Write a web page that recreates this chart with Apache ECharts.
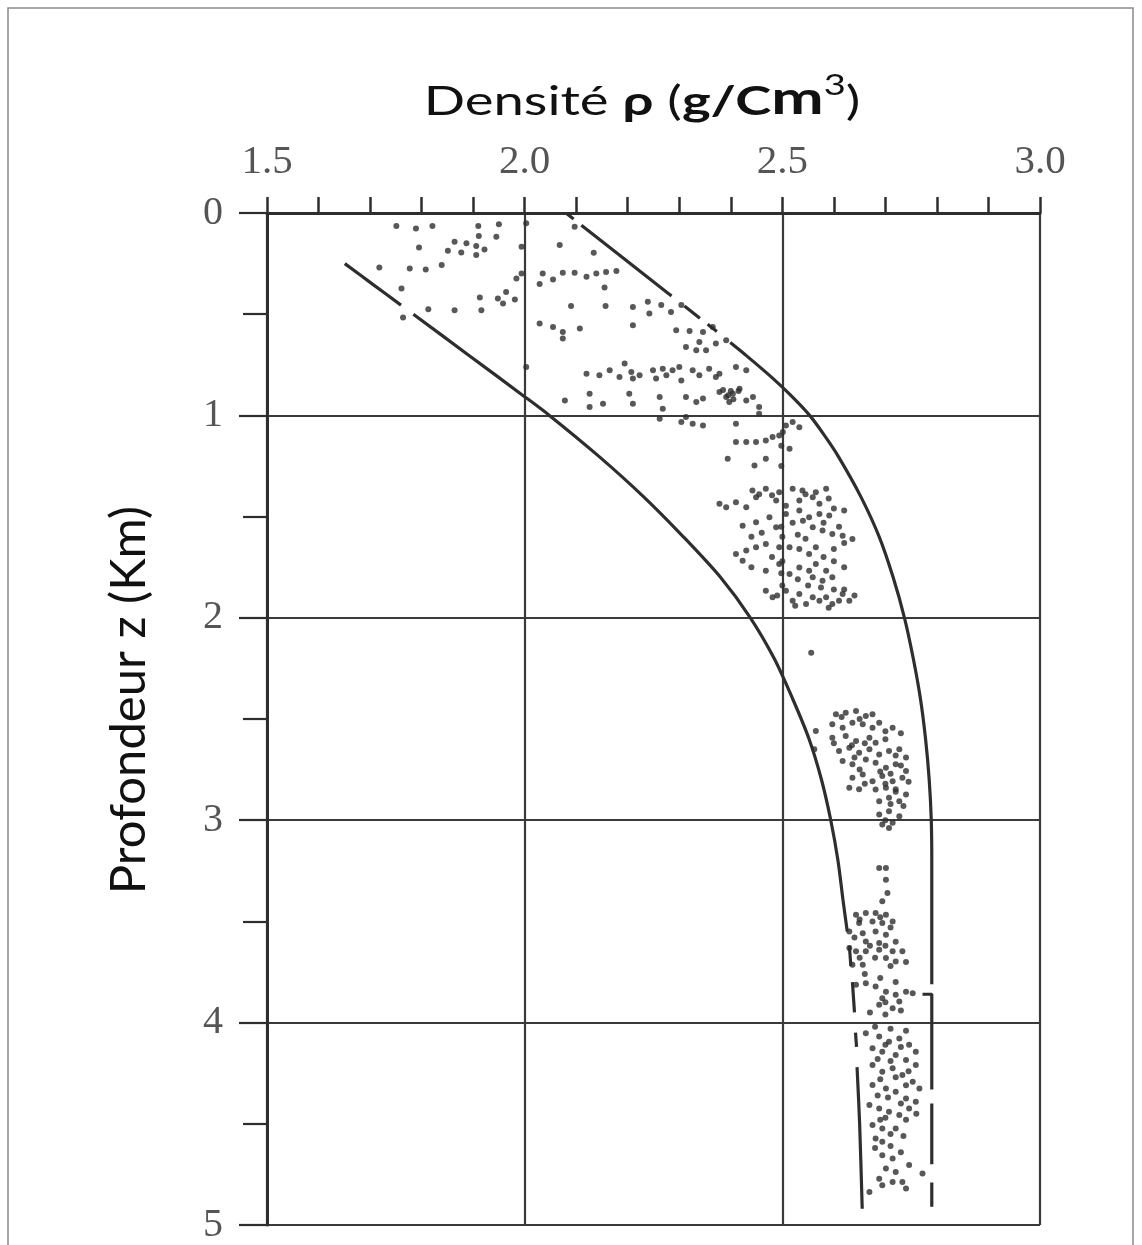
<!DOCTYPE html>
<html>
<head>
<meta charset="utf-8">
<script src="https://cdn.jsdelivr.net/npm/echarts@6/dist/echarts.min.js"></script>
<style>
html,body{margin:0;padding:0;background:#fff;}
#chart{width:1142px;height:1245px;}
</style>
</head>
<body>
<div id="chart"></div>
<script>
// ---- Data (density g/cm3, depth km) ----
const xTicks = [1.5, 2.0, 2.5, 3.0];
const yTicks = [0, 1, 2, 3, 4, 5];
const xTitle = '{n|Densité }{b|ρ}{n| (}{b|g/C}{m|m}{s|3}{n|)}';
const yTitle = 'Profondeur z (Km)';

// Upper bound curve (null = gap in the drawn line)
const upperCurve = [
  [2.080,0.00],[2.095,0.03],null,
  [2.110,0.06],[2.180,0.20],[2.280,0.40],[2.285,0.41],null,
  [2.310,0.46],[2.340,0.52],null,
  [2.355,0.55],[2.373,0.585],null,
  [2.399,0.64],[2.428,0.70],[2.474,0.80],[2.516,0.90],[2.553,1.00],[2.582,1.10],[2.608,1.20],
  [2.652,1.40],[2.688,1.60],[2.715,1.80],[2.737,2.00],[2.754,2.20],[2.768,2.40],[2.778,2.60],
  [2.785,2.80],[2.789,3.00],[2.790,3.20],[2.790,3.81],null,
  [2.772,3.86],[2.790,3.86],[2.790,4.33],null,
  [2.790,4.40],[2.790,4.70],null,
  [2.790,4.79],[2.790,4.91]
];

// Lower bound curve
const lowerCurve = [
  [1.651,0.25],[1.704,0.35],[1.760,0.455],null,
  [1.784,0.50],[1.890,0.70],[1.996,0.90],[2.048,1.00],[2.143,1.20],[2.230,1.40],[2.308,1.60],
  [2.380,1.80],[2.438,2.00],[2.484,2.20],[2.520,2.40],[2.552,2.60],[2.576,2.80],[2.594,3.00],
  [2.608,3.20],[2.618,3.40],[2.626,3.55],null,
  [2.630,3.62],[2.633,3.72],null,
  [2.636,3.80],[2.640,3.95],null,
  [2.642,4.05],[2.644,4.12],null,
  [2.645,4.22],[2.650,4.50],[2.655,4.92]
];

// Measured densities (scatter)
const pointsShallow = [
  [1.751,0.064],[1.789,0.076],[1.821,0.064],[1.910,0.064],[1.950,0.056],[1.911,0.114],[1.945,0.117],
  [1.795,0.170],[1.864,0.142],[1.887,0.150],[1.906,0.163],[1.922,0.180],[1.851,0.187],[1.877,0.195],
  [1.906,0.208],[1.718,0.269],[1.777,0.274],[1.808,0.279],[1.839,0.257],[1.761,0.373],[1.813,0.475],
  [1.864,0.480],[1.916,0.480],[1.764,0.516],[1.913,0.417],[1.948,0.422],[1.964,0.390],[1.981,0.427],
  [1.958,0.447],[1.994,0.167],[1.984,0.323],[1.994,0.299],[2.003,0.051],[2.097,0.068],[2.068,0.158],
  [2.134,0.196],[2.035,0.299],[2.055,0.328],[2.029,0.351],[2.074,0.295],[2.097,0.295],[2.120,0.315],
  [2.139,0.299],[2.158,0.292],[2.178,0.287],[2.155,0.368],[2.090,0.460],[2.157,0.460],[2.210,0.464],
  [2.239,0.439],[2.265,0.455],[2.284,0.489],[2.304,0.455],[2.242,0.497],[2.210,0.554],[2.029,0.546],
  [2.055,0.563],[2.074,0.588],[2.074,0.620],[2.107,0.571]
];
const pointsUpper = [
  [2.294,0.579],[2.320,0.583],[2.346,0.588],[2.365,0.563],[2.313,0.662],[2.339,0.637],[2.352,0.678],
  [2.371,0.645],[2.391,0.629],[2.333,0.678],[2.003,0.761],[2.120,0.794],[2.145,0.802],[2.165,0.777],
  [2.184,0.810],[2.194,0.744],[2.207,0.786],[2.210,0.818],[2.223,0.802],[2.249,0.777],[2.268,0.769],
  [2.287,0.777],[2.300,0.761],[2.255,0.818],[2.275,0.802],[2.304,0.827],[2.326,0.777],[2.339,0.802],
  [2.358,0.769],[2.371,0.810],[2.378,0.794],[2.410,0.761],[2.430,0.777],[2.078,0.926],[2.126,0.893],
  [2.152,0.942],[2.126,0.959],[2.203,0.893],[2.210,0.942],[2.262,0.909],[2.268,0.967],[2.262,1.016],
  [2.313,0.909],[2.333,0.934],[2.346,0.917],[2.378,0.885],[2.391,0.909],[2.404,0.893],[2.417,0.868],
  [2.397,0.934],[2.385,0.875],[2.400,0.880],[2.415,0.880],[2.395,0.900],[2.405,0.920],
  [2.430,0.926],[2.443,0.909],[2.455,0.959],[2.455,0.992],[2.304,1.033],[2.313,1.008],
  [2.326,1.041],[2.346,1.050],[2.410,1.041],[2.507,1.050],[2.520,1.033],[2.533,1.058],[2.501,1.082],
  [2.410,1.132],[2.430,1.132],[2.449,1.132],[2.468,1.124],[2.481,1.107],[2.494,1.099],[2.514,1.165],
  [2.394,1.214],[2.446,1.248],[2.468,1.214]
];
const pointsMiddle = [
  [2.442,1.371],[2.468,1.363],[2.494,1.380],[2.520,1.363],[2.539,1.371],[2.565,1.380],[2.585,1.363],
  [2.449,1.404],[2.488,1.421],[2.507,1.446],[2.533,1.421],[2.559,1.404],[2.572,1.437],
  [2.378,1.437],[2.391,1.454],[2.410,1.429],[2.430,1.454],
  [2.507,1.487],[2.533,1.470],[2.552,1.503],[2.572,1.487],[2.591,1.495],
  [2.423,1.545],[2.449,1.528],[2.475,1.503],[2.488,1.553],
  [2.559,1.553],[2.578,1.569],[2.597,1.586],[2.617,1.594],[2.636,1.611],
  [2.410,1.685],[2.430,1.668],[2.449,1.652],[2.468,1.635],[2.494,1.652],[2.514,1.652],[2.533,1.660],
  [2.552,1.685],[2.565,1.652],[2.423,1.718],
  [2.468,1.767],[2.494,1.734],[2.514,1.784],[2.533,1.751],[2.552,1.767],
  [2.565,1.734],[2.585,1.767],[2.597,1.800],[2.578,1.817],[2.559,1.800],
  [2.468,1.866],[2.481,1.899],[2.507,1.866],[2.520,1.916],[2.533,1.883],[2.546,1.932],[2.559,1.899],
  [2.572,1.916],[2.585,1.899],[2.597,1.932],[2.617,1.883],[2.630,1.916],[2.610,1.916],
  [2.455,1.390],[2.480,1.395],[2.545,1.390],[2.590,1.410],[2.600,1.460],[2.620,1.470],
  [2.540,1.520],[2.520,1.530],[2.580,1.530],[2.610,1.550],[2.500,1.600],[2.530,1.590],[2.545,1.610],
  [2.440,1.600],[2.460,1.580],[2.620,1.630],[2.600,1.660],[2.580,1.700],[2.600,1.720],[2.620,1.750],
  [2.480,1.700],[2.500,1.720],[2.440,1.750],[2.530,1.810],[2.550,1.840],[2.575,1.850],[2.600,1.860],
  [2.620,1.860],[2.500,1.840],[2.640,1.890],[2.490,1.890],[2.525,1.940],[2.590,1.950],
  [2.498,1.150],[2.498,1.250],[2.498,1.550],[2.498,1.780],
  [2.556,2.173]
];
const pointsDeep1 = [
  [2.604,2.477],[2.623,2.469],[2.643,2.460],[2.662,2.485],[2.675,2.477],
  [2.597,2.526],[2.617,2.543],[2.636,2.518],[2.656,2.526],[2.675,2.543],[2.688,2.518],[2.714,2.543],
  [2.597,2.593],[2.623,2.584],[2.643,2.609],[2.669,2.593],[2.681,2.617],
  [2.610,2.658],[2.630,2.642],[2.649,2.667],[2.669,2.650],[2.688,2.675],[2.707,2.658],[2.727,2.650],
  [2.617,2.708],[2.636,2.724],[2.662,2.700],[2.681,2.716],[2.701,2.741],[2.720,2.724],[2.740,2.757],
  [2.636,2.790],[2.656,2.774],[2.675,2.807],[2.694,2.782],[2.714,2.807],[2.733,2.790],
  [2.630,2.840],[2.649,2.847],[2.681,2.848],[2.701,2.840],[2.720,2.847],[2.740,2.873],
  [2.688,2.906],[2.707,2.889],[2.727,2.906],[2.688,2.972],[2.707,2.956],[2.727,2.980],
  [2.694,3.021],[2.714,3.013],[2.707,3.038],[2.565,2.559],[2.562,2.650],
  [2.615,2.490],[2.650,2.500],[2.700,2.560],[2.730,2.570],[2.600,2.620],[2.635,2.630],[2.660,2.620],
  [2.700,2.600],[2.720,2.680],[2.740,2.690],[2.640,2.690],[2.650,2.750],[2.690,2.760],[2.710,2.770],
  [2.730,2.730],[2.745,2.810],[2.660,2.820],[2.700,2.820],[2.720,2.860],[2.710,2.920],[2.735,2.930],
  [2.700,3.000]
];
const pointsDeep2 = [
  [2.688,3.236],[2.701,3.236],[2.701,3.294],[2.704,3.360],[2.694,3.401],
  [2.643,3.467],[2.662,3.458],[2.681,3.458],[2.701,3.467],[2.649,3.508],[2.675,3.500],[2.694,3.508],[2.714,3.500],
  [2.630,3.550],[2.656,3.558],[2.681,3.550],[2.701,3.566],[2.662,3.599],[2.688,3.607],
  [2.630,3.632],[2.643,3.648],[2.662,3.648],[2.688,3.640],[2.714,3.648],[2.733,3.648],[2.701,3.681],[2.720,3.698],
  [2.636,3.714],[2.656,3.714],
  [2.643,3.813],[2.662,3.805],[2.681,3.822],[2.701,3.847],[2.694,3.880],[2.720,3.863],[2.740,3.847],[2.753,3.855],
  [2.688,3.912],[2.714,3.929],[2.727,3.896],
  [2.662,4.053],[2.688,4.069],[2.707,4.094],[2.727,4.078],[2.746,4.110],[2.759,4.144],
  [2.675,4.127],[2.694,4.144],[2.720,4.160],[2.740,4.185],[2.759,4.209],
  [2.675,4.209],[2.694,4.243],[2.714,4.226],[2.733,4.259],[2.753,4.292],[2.766,4.325],
  [2.675,4.308],[2.701,4.325],[2.720,4.342],[2.740,4.375],[2.759,4.391],
  [2.669,4.407],[2.688,4.424],[2.707,4.441],[2.727,4.457],[2.746,4.424],
  [2.675,4.506],[2.694,4.523],[2.720,4.523],[2.681,4.573],[2.694,4.589],
  [2.694,4.655],[2.714,4.672],[2.746,4.704],[2.772,4.746],[2.701,4.721],[2.720,4.738],
  [2.688,4.771],[2.714,4.787],[2.733,4.787],[2.694,4.804],[2.740,4.820],[2.669,4.837],
  [2.650,3.490],[2.690,3.480],[2.710,3.530],[2.640,3.580],[2.670,3.620],[2.700,3.620],[2.720,3.600],
  [2.680,3.680],[2.650,3.680],[2.710,3.720],[2.740,3.700],[2.660,3.760],[2.690,3.780],[2.720,3.800],
  [2.700,3.900],[2.670,3.950],[2.700,3.960],[2.730,3.940],[2.680,4.020],[2.710,4.030],[2.740,4.040],
  [2.700,4.110],[2.730,4.120],[2.685,4.180],[2.710,4.190],[2.745,4.240],[2.720,4.270],[2.690,4.280],
  [2.740,4.310],[2.705,4.370],[2.685,4.360],[2.730,4.400],[2.760,4.450],[2.700,4.470],[2.740,4.480],
  [2.690,4.480],[2.710,4.550],[2.735,4.560],[2.710,4.610],[2.730,4.640],[2.680,4.620]
];

// ---- Chart ----
const ink = '#2e2e2e';
const toLine = arr => arr.map(p => p === null ? ['-', '-'] : p);
const allPoints = [].concat(pointsShallow, pointsUpper, pointsMiddle, pointsDeep1, pointsDeep2);

const chart = echarts.init(document.getElementById('chart'), null, {renderer: 'canvas'});
chart.setOption({
  animation: false,
  backgroundColor: '#fff',
  grid: {left: 267, top: 213, right: 102, bottom: 20, containLabel: false},
  xAxis: {
    type: 'value', position: 'top',
    min: xTicks[0], max: xTicks[xTicks.length - 1], interval: 0.5,
    axisLine: {show: true, lineStyle: {color: ink, width: 3}},
    axisTick: {show: true, inside: false, length: 16, lineStyle: {color: ink, width: 2.5}},
    minorTick: {show: true, splitNumber: 5, length: 16, lineStyle: {color: ink, width: 2.5}},
    splitLine: {show: true, lineStyle: {color: '#3a3a3a', width: 2.2}},
    axisLabel: {
      formatter: v => v.toFixed(1), fontFamily: 'Liberation Serif', fontSize: 41,
      color: '#555', margin: 30
    }
  },
  yAxis: {
    type: 'value', inverse: true,
    min: yTicks[0], max: yTicks[yTicks.length - 1], interval: 1,
    axisLine: {show: true, lineStyle: {color: ink, width: 3}},
    axisTick: {show: true, inside: false, length: 28, lineStyle: {color: ink, width: 2.2}},
    minorTick: {show: true, splitNumber: 2, length: 24, lineStyle: {color: ink, width: 2.2}},
    splitLine: {show: true, lineStyle: {color: '#3a3a3a', width: 2.2}},
    axisLabel: {
      formatter: v => String(yTicks[yTicks.indexOf(v)] ?? v),
      fontFamily: 'Liberation Serif', fontSize: 40, color: '#555', margin: 44
    }
  },
  graphic: [
    {
      type: 'rect', silent: true, z: -10,
      shape: {x: 8, y: 8, width: 1125, height: 1260},
      style: {fill: 'none', stroke: '#8a8a8a', lineWidth: 1.5}
    },
    {
      type: 'text', silent: true, x: 642, y: 97, scaleX: 1.36,
      style: {
        text: xTitle, align: 'center', verticalAlign: 'middle',
        rich: {
          n: {fontFamily: 'Lato', fontSize: 40, fill: '#111', lineHeight: 50, verticalAlign: 'bottom'},
          b: {fontFamily: 'Lato', fontSize: 40, fontWeight: 'bold', fill: '#111', lineHeight: 50, verticalAlign: 'bottom'},
          m: {fontFamily: 'Lato', fontSize: 46, fontWeight: 'bold', fill: '#111', lineHeight: 50, verticalAlign: 'bottom'},
          s: {fontFamily: 'Lato', fontSize: 28, fill: '#111', lineHeight: 28, verticalAlign: 'top'}
        }
      }
    },
    {
      type: 'text', silent: true, x: 129, y: 700, rotation: Math.PI / 2,
      style: {
        text: yTitle, align: 'center', verticalAlign: 'middle',
        fontFamily: 'Lato', fontSize: 49, fill: '#111'
      }
    }
  ],
  series: [
    {
      type: 'line', data: toLine(upperCurve), smooth: 0.3, connectNulls: false,
      symbol: 'none', lineStyle: {color: ink, width: 3.2}, z: 3
    },
    {
      type: 'line', data: toLine(lowerCurve), smooth: 0.3, connectNulls: false,
      symbol: 'none', lineStyle: {color: ink, width: 3.2}, z: 3
    },
    {
      type: 'scatter', data: allPoints, symbol: 'circle', symbolSize: 6,
      itemStyle: {color: ink}, z: 4
    }
  ]
});
</script>
</body>
</html>
